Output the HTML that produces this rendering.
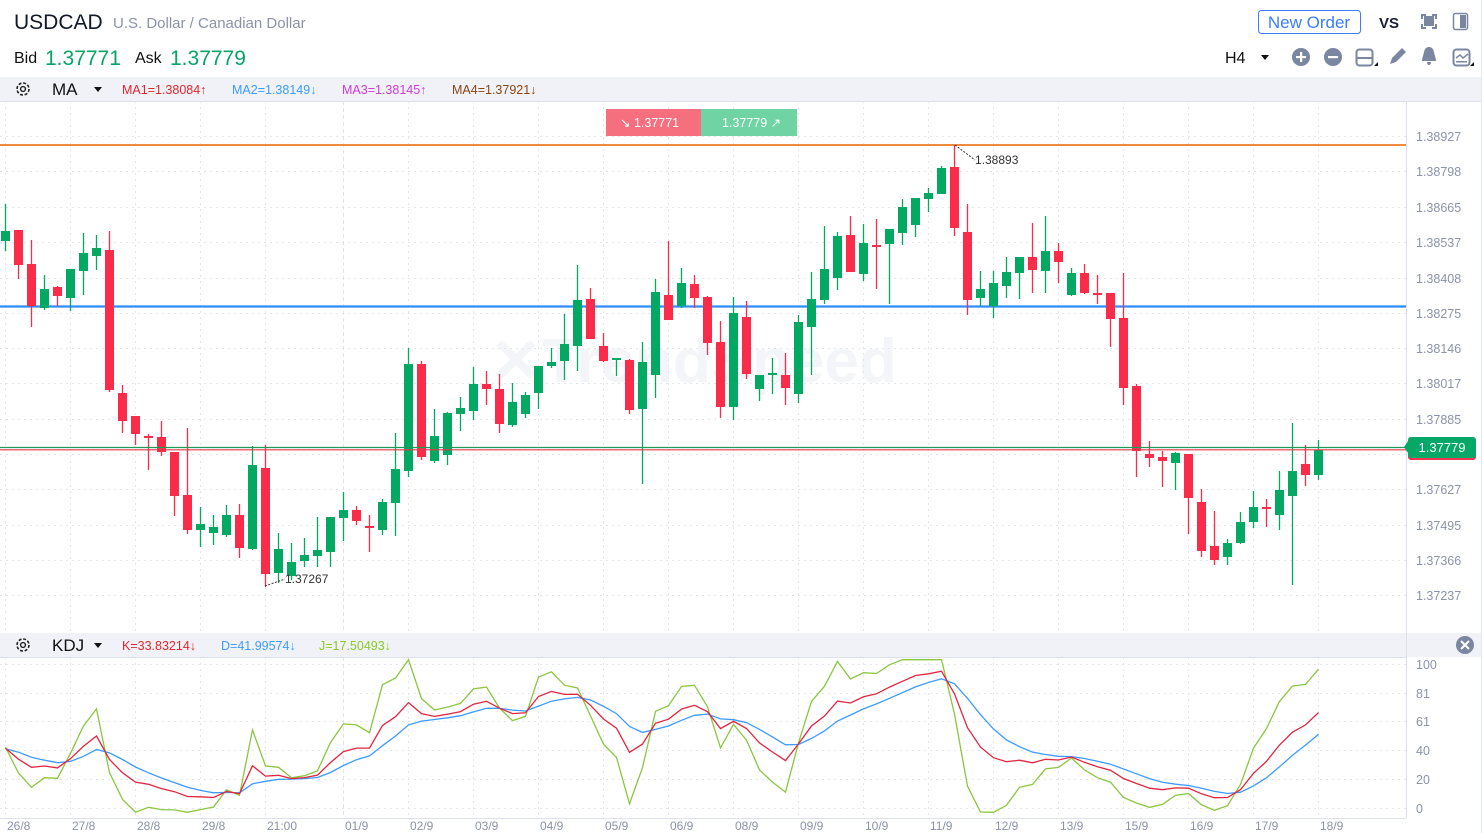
<!DOCTYPE html>
<html><head><meta charset="utf-8">
<style>
html,body{margin:0;padding:0;background:#fff;width:1482px;height:833px;overflow:hidden;font-family:"Liberation Sans",Arial,sans-serif}
svg{display:block}
</style></head><body>
<svg id="s" width="1482" height="833" xmlns="http://www.w3.org/2000/svg" font-family="Liberation Sans, Arial, sans-serif">
<rect x="0" y="0" width="1482" height="833" fill="#fff"/>
<text x="14" y="29" font-size="21" fill="#111827">USDCAD</text>
<text x="113" y="28" font-size="15" fill="#8b93a7">U.S. Dollar / Canadian Dollar</text>
<text x="14" y="63" font-size="16" fill="#111">Bid</text>
<text x="45" y="65" font-size="21" fill="#07a565">1.37771</text>
<text x="135" y="63" font-size="16" fill="#111">Ask</text>
<text x="170" y="65" font-size="21" fill="#07a565">1.37779</text>
<rect x="1258.5" y="10.5" width="102" height="23" rx="3" fill="#fff" stroke="#3b7dff"/>
<text x="1309" y="28" font-size="17" fill="#3b7dff" text-anchor="middle">New Order</text>
<text x="1389" y="28" font-size="15" font-weight="bold" fill="#1a1f36" text-anchor="middle">VS</text>
<g fill="#7b86a1">
<rect x="1424" y="16" width="10" height="10"/>
<path d="M1421 14h5v2h-3v3h-2zM1437 14h-5v2h3v3h2zM1421 29h5v-2h-3v-3h-2zM1437 29h-5v-2h3v-3h2z"/>
<rect x="1453.5" y="13.5" width="14" height="16" rx="2" fill="none" stroke="#7b86a1" stroke-width="1.5"/>
<rect x="1460" y="15" width="6" height="13"/>
</g>
<text x="1225" y="63" font-size="16" fill="#111">H4</text>
<path d="M1261 55h8l-4 5z" fill="#111"/>
<g fill="#7b86a1">
<circle cx="1301" cy="57" r="9"/><circle cx="1333" cy="57" r="9"/>
<rect x="1356.5" y="49.5" width="16" height="16" rx="3" fill="none" stroke="#7b86a1" stroke-width="2"/>
<rect x="1357" y="57" width="15" height="2"/>
<path d="M1374 66l4-4v4z" fill="#111"/>
<path d="M1390 64l2-6 10-10 4 4-10 10z"/>
<path d="M1422 61c0-3 1-4 2-9 1-4 3-5 5-5s4 1 5 5c1 5 2 6 2 9zM1427 62h4c0 2-1 3-2 3s-2-1-2-3z"/>
<rect x="1453.5" y="49.5" width="16" height="16" rx="3" fill="none" stroke="#7b86a1" stroke-width="2"/>
<path d="M1456 58l4-3 3 3 5-4" fill="none" stroke="#7b86a1" stroke-width="1.5"/>
<rect x="1456" y="61" width="11" height="1.5"/>
<path d="M1470 66l4-4v4z" fill="#111"/>
</g>
<g fill="#fff"><rect x="1296" y="56" width="10" height="2.2"/><rect x="1300" y="52" width="2.2" height="10"/><rect x="1328" y="56" width="10" height="2.2"/></g>
<rect x="0" y="77" width="1482" height="24" fill="#f0f2f7"/>
<line x1="0" y1="101.5" x2="1482" y2="101.5" stroke="#dde1ea"/>
<text x="52" y="95" font-size="17" fill="#111">MA</text>
<path d="M94 87h8l-4 5z" fill="#111"/>
<text x="122" y="94" font-size="12.5" fill="#e0262f">MA1=1.38084↑</text>
<text x="232" y="94" font-size="12.5" fill="#3d9bff">MA2=1.38149↓</text>
<text x="342" y="94" font-size="12.5" fill="#d03bd8">MA3=1.38145↑</text>
<text x="452" y="94" font-size="12.5" fill="#8b4513">MA4=1.37921↓</text>
<rect x="0" y="633" width="1482" height="24" fill="#f0f2f7"/>
<line x1="0" y1="657.5" x2="1406" y2="657.5" stroke="#dde1ea"/>
<text x="52" y="651" font-size="17" fill="#111">KDJ</text>
<path d="M94 643h8l-4 5z" fill="#111"/>
<text x="122" y="650" font-size="12.5" fill="#e0262f">K=33.83214↓</text>
<text x="221" y="650" font-size="12.5" fill="#3d9bff">D=41.99574↓</text>
<text x="319" y="650" font-size="12.5" fill="#8ac926">J=17.50493↓</text>
<circle cx="1465" cy="645" r="9" fill="#7b86a1"/>
<path d="M1461 641l8 8M1469 641l-8 8" stroke="#fff" stroke-width="2"/>
<text x="490" y="382" font-size="62" font-weight="bold" fill="#f4f5f8">✕TrendSpeed</text>
<g id="grid"></g>
<g id="plot"></g>
<line x1="1406.5" y1="101" x2="1406.5" y2="818" stroke="#dde1ea"/>
<line x1="0" y1="818.5" x2="1406" y2="818.5" stroke="#dde1ea"/>
<line x1="1481.5" y1="0" x2="1481.5" y2="833" stroke="#e5e7ee"/>
<rect x="606" y="109" width="95" height="27" fill="#f56f7f"/>
<rect x="701" y="109" width="96" height="27" fill="#6fd3a4"/>
<text x="620" y="127" font-size="12.5" fill="#fff">↘ 1.37771</text>
<text x="722" y="127" font-size="12.5" fill="#fff">1.37779 ↗</text>
<path d="M955 145l20 15" stroke="#333" stroke-dasharray="2,1.5" fill="none"/>
<text x="975" y="164" font-size="12" fill="#333">1.38893</text>
<path d="M265 586l20-7" stroke="#333" stroke-dasharray="2,1.5" fill="none"/>
<text x="285" y="583" font-size="12" fill="#333">1.37267</text>
<rect x="1408" y="439" width="68" height="21" rx="3" fill="#f0334f"/>
<rect x="1408" y="437" width="68" height="21" rx="3" fill="#06a867"/>
<path d="M1408 441l-4 6 4 6z" fill="#06a867"/>
<text x="1442" y="452" font-size="13" fill="#fff" text-anchor="middle">1.37779</text>
</svg>
<script>
var NS="http://www.w3.org/2000/svg";
function el(p,t,a,txt){var e=document.createElementNS(NS,t);for(var k in a)e.setAttribute(k,a[k]);if(txt!=null)e.textContent=txt;p.appendChild(e);return e;}
var grid=document.getElementById('grid'),plot=document.getElementById('plot'),svg=document.getElementById('s');
function gear(cx,cy){var g=el(svg,'g',{});el(g,'circle',{cx:cx,cy:cy,r:6,fill:'none',stroke:'#222','stroke-width':1.6,'stroke-dasharray':'3,1.7'});el(g,'circle',{cx:cx,cy:cy,r:2.4,fill:'none',stroke:'#222','stroke-width':1.4});}
gear(23,89);gear(23,645);
var pl=[["1.38927",136],["1.38798",171],["1.38665",207],["1.38537",242],["1.38408",278],["1.38275",313],["1.38146",348],["1.38017",383],["1.37885",419],["1.37756",454],["1.37627",489],["1.37495",525],["1.37366",560],["1.37237",595]];
pl.forEach(function(p){el(grid,'line',{x1:0,y1:p[1]+.5,x2:1406,y2:p[1]+.5,stroke:'#e3e6ec','stroke-dasharray':'2,4'});
 if(p[0]!="1.37756")el(grid,'text',{x:1416,y:p[1]+5,'font-size':12.5,fill:'#8b93a7'},p[0]);});
[[100,664],[81,693],[61,721],[40,750],[20,779],[0,808]].forEach(function(p){el(grid,'line',{x1:0,y1:p[1]+.5,x2:1406,y2:p[1]+.5,stroke:'#e3e6ec','stroke-dasharray':'2,4'});el(grid,'text',{x:1416,y:p[1]+5,'font-size':12.5,fill:'#8b93a7'},p[0]);});
var gx=[5,70,135,200,265,343,408,473,538,603,668,733,798,863,928,993,1058,1123,1188,1253,1318];
var lb=["26/8","27/8","28/8","29/8","21:00","01/9","02/9","03/9","04/9","05/9","06/9","08/9","09/9","10/9","11/9","12/9","13/9","15/9","16/9","17/9","18/9"];
gx.forEach(function(x,i){el(grid,'line',{x1:x+.5,y1:101,x2:x+.5,y2:633,stroke:i==5?'#dfe3ea':'#e3e6ec','stroke-dasharray':i==5?'4,3':'2,4'});
 el(grid,'line',{x1:x+.5,y1:657,x2:x+.5,y2:818,stroke:i==5?'#dfe3ea':'#e3e6ec','stroke-dasharray':i==5?'4,3':'2,4'});
 el(grid,'text',{x:x+2,y:830,'font-size':12,fill:'#8b93a7'},lb[i]);});
var C=[[241,231,204,251],[230,265,230,279],[264,306,240,327],[308,289,275,310],[287,296,286,306],[298,269,269,311],[271,253,233,295],[256,248,235,270],[250,390,231,392],[393,421,385,433],
[416,434,416,445],[436,438,434,470],[437,452,421,456],[452,496,452,516],[495,530,428,534],[530,524,507,547],[533,527,515,545],[535,515,505,537],[515,548,504,558],[549,465,446,550],
[468,574,445,587],[573,549,533,583],[576,562,543,580],[561,555,538,567],[556,550,517,567],[552,517,517,567],[518,510,492,541],[510,521,506,525],[526,528,515,552],[530,502,499,535],
[503,469,433,536],[471,364,348,477],[364,457,361,460],[461,436,409,463],[455,413,412,465],[414,408,397,431],[411,384,367,420],[384,389,371,405],[389,424,374,433],[425,402,383,427],
[414,395,392,418],[393,366,366,409],[366,362,348,368],[361,344,314,380],[346,300,265,371],[299,339,288,339],[346,361,333,362],[360,358,358,376],[360,410,359,414],[409,362,342,484],
[375,292,279,398],[295,320,241,320],[306,283,268,308],[284,298,275,308],[297,343,296,355],[342,407,321,418],[407,313,297,420],[317,374,301,379],[389,375,375,401],[375,373,358,394],
[375,388,353,405],[394,322,315,403],[327,299,272,375],[300,269,226,304],[278,236,232,290],[235,272,216,272],[274,243,224,281],[245,247,219,289],[244,229,229,304],[233,207,199,245],
[225,198,198,237],[199,193,188,212],[194,168,166,194],[167,228,145,236],[232,300,204,315],[298,289,271,306],[306,283,271,318],[286,272,257,298],[273,257,257,299],[257,270,223,293],
[271,251,216,293],[251,262,243,283],[295,273,268,296],[273,293,264,294],[293,295,275,304],[293,319,293,347],[318,388,273,405],[386,451,384,477],[454,458,441,467],[457,461,451,487],
[463,453,452,490],[454,498,454,534],[502,551,489,557],[546,560,511,565],[557,543,539,565],[543,522,512,544],[522,507,491,528],[507,509,499,527],[515,490,471,530],[496,471,423,585],
[464,475,445,486],[475,450,440,480]];
el(plot,'line',{x1:0,y1:145,x2:1406,y2:145,stroke:'#f08a3c','stroke-width':2});
el(plot,'line',{x1:0,y1:306.5,x2:1406,y2:306.5,stroke:'#2f8cff','stroke-width':2.2});
C.forEach(function(c,i){var x=5.5+13*i;var up=c[1]<=c[0];var col=up?'#03a863':'#fb2b4a';
 el(plot,'line',{x1:x,y1:c[2],x2:x,y2:c[3],stroke:col,'stroke-width':1.3});
 var t=Math.min(c[0],c[1]),b=Math.max(c[0],c[1]);if(b-t<1.5){t-=0.75;b+=0.75;}
 el(plot,'rect',{x:x-4.5,y:t,width:9,height:b-t,fill:col});});
el(plot,'line',{x1:0,y1:447.5,x2:1406,y2:447.5,stroke:'#1f9a57','stroke-width':1.2});
el(plot,'line',{x1:0,y1:449.8,x2:1406,y2:449.8,stroke:'#e8354a','stroke-width':1.2});
var K=41,D=41,Ks=[],Ds=[],Js=[];
for(var i=0;i<C.length;i++){var s=Math.max(0,i-8),hh=1e9,ll=-1e9;for(var j=s;j<=i;j++){hh=Math.min(hh,C[j][2]);ll=Math.max(ll,C[j][3]);}
 var rsv=ll>hh?(ll-C[i][1])/(ll-hh)*100:50;K=2/3*K+rsv/3;D=2/3*D+K/3;var J=3*K-2*D;Ks.push(K);Ds.push(D);Js.push(J);}
function yk(v){v=Math.max(-3,Math.min(103,v));return 808-v*1.44;}
function pts(a){return a.map(function(v,i){return (5.5+13*i)+','+yk(v).toFixed(1);}).join(' ');}
el(plot,'polyline',{points:pts(Js),fill:'none',stroke:'#8cc63f','stroke-width':1.3});
el(plot,'polyline',{points:pts(Ds),fill:'none',stroke:'#3d9bff','stroke-width':1.3});
el(plot,'polyline',{points:pts(Ks),fill:'none',stroke:'#e0263f','stroke-width':1.3});
</script>
</body></html>
